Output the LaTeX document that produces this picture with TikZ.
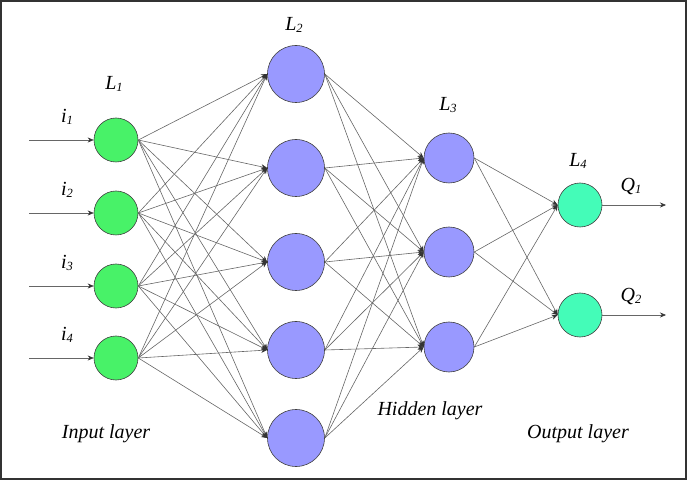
\documentclass[tikz,border=0pt]{standalone}
\usepackage{fontspec}
\setmainfont{Liberation Serif}
\usetikzlibrary{arrows.meta}
\definecolor{inGreen}{HTML}{48F268}
\definecolor{hidBlue}{HTML}{9999FF}
\definecolor{outTeal}{HTML}{44FCB8}
\definecolor{frameCol}{HTML}{333333}
\tikzset{
  neuron/.style={circle, draw=black!75, line width=0.6pt, inner sep=0pt},
  inp/.style={neuron, fill=inGreen, minimum size=44pt},
  hidA/.style={neuron, fill=hidBlue, minimum size=57pt},
  hidB/.style={neuron, fill=hidBlue, minimum size=50pt},
  outp/.style={neuron, fill=outTeal, minimum size=44pt},
  conn/.style={draw=black!60, line width=0.6pt, -{Stealth[length=6pt,width=5pt,color=black!80]}},
  lbl/.style={font=\fontsize{20}{20}\selectfont\itshape, inner sep=0pt},
}
\newcommand{\sbs}[1]{\raisebox{-0.15ex}{\fontsize{12.5}{12.5}\selectfont\itshape #1}}
\begin{document}
\begin{tikzpicture}[x=1pt,y=-1pt]
\useasboundingbox (0,0) rectangle (689,481);
\draw[frameCol, line width=2.2pt] (1,1) rectangle (686,479);
% layer 1
\foreach \i/\y in {1/140,2/213,3/286,4/358}{
  \node[inp] (a\i) at (116,\y) {};
}
% layer 2
\foreach \i/\y in {1/74,2/168,3/262,4/350,5/438}{
  \node[hidA] (b\i) at (296,\y) {};
}
% layer 3
\foreach \i/\y in {1/158,2/252,3/347}{
  \node[hidB] (c\i) at (449,\y) {};
}
% layer 4
\foreach \i/\y in {1/205,2/315}{
  \node[outp] (d\i) at (580,\y) {};
}
% input and output free ends
\foreach \i/\y in {1/140,2/213,3/286,4/358}{
  \coordinate (s\i) at (29,\y);
  \draw[conn] (s\i) -- (a\i.west);
}
\foreach \i/\y in {1/205,2/315}{
  \coordinate (t\i) at (666,\y);
  \draw[conn] (d\i.east) -- (t\i);
}
\foreach \i in {1,...,4}{\foreach \j in {1,...,5}{\draw[conn] (a\i.east) -- (b\j.west);}}
\foreach \i in {1,...,5}{\foreach \j in {1,...,3}{\draw[conn] (b\i.east) -- (c\j.west);}}
\foreach \i in {1,...,3}{\foreach \j in {1,2}{\draw[conn] (c\i.east) -- (d\j.west);}}
% labels
\node[lbl] (l1) at (114,84) {L\sbs{1}};
\node[lbl] (l2) at (294,25) {L\sbs{2}};
\node[lbl] (l3) at (448,105) {L\sbs{3}};
\node[lbl] (l4) at (578,161) {L\sbs{4}};
\node[lbl] (q1) at (631,187) {Q\sbs{1}};
\node[lbl] (q2) at (631,297) {Q\sbs{2}};
\foreach \i/\y in {1/117,2/190,3/263,4/335}{
  \node[lbl] (il\i) at (67,\y) {i\sbs{\i}};
}
\node[lbl] (tin) at (106,434) {Input layer};
\node[lbl] (thid) at (430,411) {Hidden layer};
\node[lbl] (tout) at (578,434) {Output layer};
\end{tikzpicture}
\end{document}
